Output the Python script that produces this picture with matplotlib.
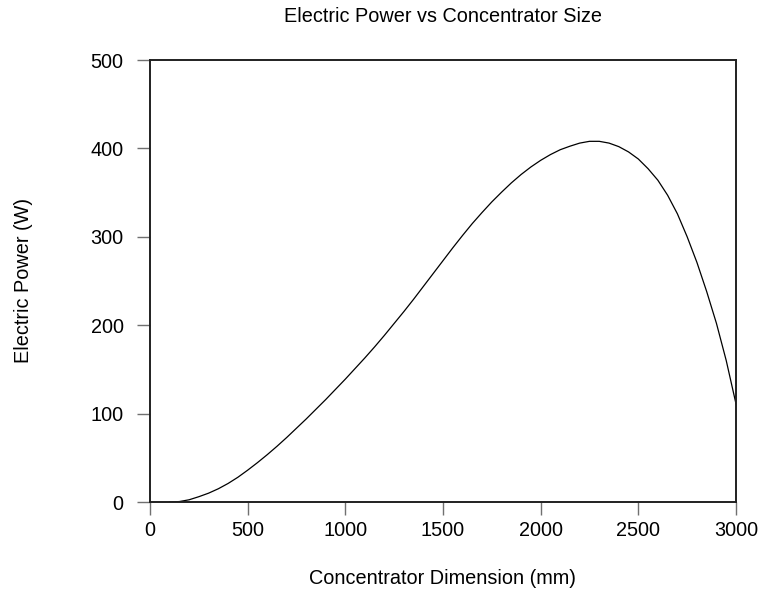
import matplotlib
matplotlib.use("Agg")
import matplotlib.pyplot as plt

plt.rcParams['font.family'] = ['Liberation Sans', 'DejaVu Sans']

# values, every 50 mm
dimension = [100, 150, 200, 250, 300, 350, 400, 450, 500, 550,
             600, 650, 700, 750, 800, 850, 900, 950, 1000, 1050,
             1100, 1150, 1200, 1250, 1300, 1350, 1400, 1450, 1500, 1550,
             1600, 1650, 1700, 1750, 1800, 1850, 1900, 1950, 2000, 2050,
             2100, 2150, 2200, 2250, 2300, 2350, 2400, 2450, 2500, 2550,
             2600, 2650, 2700, 2750, 2800, 2850, 2900, 2950, 3000]
power = [0, 0.5, 2.5, 6, 10, 15, 21, 28, 36, 44.5,
         53.5, 63, 73, 83.5, 94, 105, 116, 127.5, 139, 151,
         163, 175.5, 188.5, 202, 215.5, 229.5, 244, 258.5, 273, 287.5,
         301.5, 315, 327.5, 339.5, 350.5, 361, 370.5, 379, 386.5, 393,
         398.5, 402.5, 406, 408, 408, 406, 402, 396, 388, 377,
         364, 347, 326, 300, 271, 238, 202, 160, 111]

xticks = [0, 500, 1000, 1500, 2000, 2500, 3000]
yticks = [0, 100, 200, 300, 400, 500]


def main():
    fig = plt.figure(figsize=(7.64, 5.92), dpi=100)
    ax = fig.add_axes([150 / 764, 1 - 502 / 592, 586 / 764, 442 / 592])

    ax.plot(dimension, power, color='black', linewidth=0.9)

    ax.set_xlim(0, 3000)
    ax.set_ylim(0, 500)
    ax.set_xticks(xticks)
    ax.set_yticks(yticks)
    ax.tick_params(direction='out', length=9.5, width=1.0, color='#707070',
                   labelsize=14.3)
    ax.tick_params(axis='y', pad=9.5)
    ax.tick_params(axis='x', pad=4.5)
    for s in ax.spines.values():
        s.set_linewidth(1.4)
        s.set_color('#202020')

    xc = 0.5 * (150 + 736) / 764
    fig.text(xc, 1 - 21.7 / 592, "Electric Power vs Concentrator Size",
             ha='center', va='baseline', fontsize=14.3)
    fig.text(xc, 1 - 583.5 / 592, "Concentrator Dimension (mm)",
             ha='center', va='baseline', fontsize=14.3)
    fig.text(24 / 764, 1 - 280 / 592, "Electric Power (W)", rotation=90,
             ha='center', va='center', fontsize=14.3)

    fig.savefig("out.png", dpi=100)


if __name__ == "__main__":
    main()
